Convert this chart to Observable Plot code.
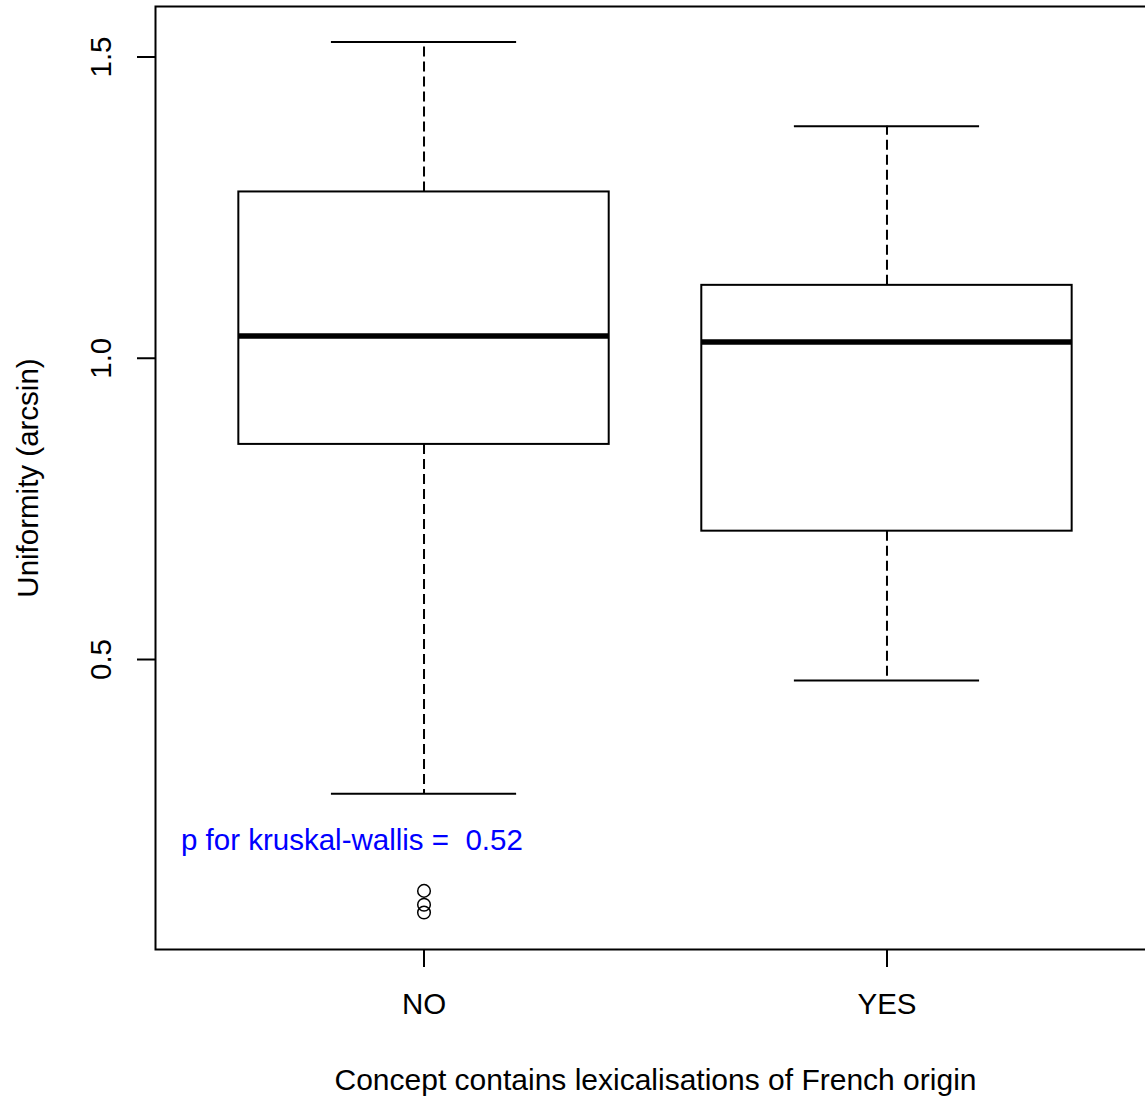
<!DOCTYPE html>
<html>
<head>
<meta charset="utf-8">
<script src="https://cdn.jsdelivr.net/npm/d3@7"></script>
<script src="https://cdn.jsdelivr.net/npm/@observablehq/plot@0.6"></script>
<style>
  html, body { margin: 0; padding: 0; background: #fff; overflow: hidden; }
  svg text { white-space: pre; }
</style>
</head>
<body>
<div id="chart"></div>
<script>
// Box-plot summary statistics per group
const groups = ["NO", "YES"];
const whiskerLow = [0.277, 0.465];
const lowerQuartile = [0.857, 0.713];
const medians = [1.037, 1.027];
const upperQuartile = [1.276, 1.121];
const whiskerHigh = [1.525, 1.385];

// Points beyond the whiskers
const outlierGroups = ["NO", "NO", "NO"];
const outlierValues = [0.116, 0.093, 0.080];

const yTicks = [0.5, 1.0, 1.5];
const xTitle = "Concept contains lexicalisations of French origin";
const yTitle = "Uniformity (arcsin)";
const pLabel = "p for kruskal-wallis =  0.52";

const boxHalf = 0.4;     // half box width, in group units
const stapleHalf = 0.2;  // half whisker-cap width

const stats = groups.map((g, i) => ({
  group: g,
  pos: i + 1,
  lo: whiskerLow[i],
  q1: lowerQuartile[i],
  med: medians[i],
  q3: upperQuartile[i],
  hi: whiskerHigh[i]
}));
const outliers = outlierValues.map((v, i) => ({
  pos: groups.indexOf(outlierGroups[i]) + 1,
  value: v
}));

const font = "'Liberation Sans', Arial, Helvetica, sans-serif";
const fs = 29.5;

const chart = Plot.plot({
  width: 1145,
  height: 1099,
  marginLeft: 155,
  marginRight: -10,
  marginTop: 6,
  marginBottom: 150,
  style: { fontFamily: font, fontSize: fs + "px", color: "#000", background: "#fff" },
  x: { type: "linear", domain: [0.42, 2.58] },
  y: { domain: [0.0187, 1.5838] },
  marks: [
    // whiskers (dashed) from the quartiles to the extremes
    Plot.ruleX(stats, { x: "pos", y1: "q3", y2: "hi", stroke: "#000", strokeWidth: 2, strokeDasharray: "10,5" }),
    Plot.ruleX(stats, { x: "pos", y1: "q1", y2: "lo", stroke: "#000", strokeWidth: 2, strokeDasharray: "10,5" }),
    // whisker caps
    Plot.ruleY(stats, { y: "hi", x1: d => d.pos - stapleHalf, x2: d => d.pos + stapleHalf, stroke: "#000", strokeWidth: 2 }),
    Plot.ruleY(stats, { y: "lo", x1: d => d.pos - stapleHalf, x2: d => d.pos + stapleHalf, stroke: "#000", strokeWidth: 2 }),
    // boxes
    Plot.rect(stats, { x1: d => d.pos - boxHalf, x2: d => d.pos + boxHalf, y1: "q1", y2: "q3", fill: "#fff", stroke: "#000", strokeWidth: 2 }),
    // medians
    Plot.ruleY(stats, { y: "med", x1: d => d.pos - boxHalf, x2: d => d.pos + boxHalf, stroke: "#000", strokeWidth: 5.5 }),
    // outliers
    Plot.dot(outliers, { x: "pos", y: "value", r: 6.3, stroke: "#000", strokeWidth: 1.5, fill: "none" }),
    // test result annotation
    Plot.text([pLabel], { x: 0.475, y: 0.2, text: d => d, textAnchor: "start", lineAnchor: "middle", fill: "#0000ff", fontSize: fs }),
    // axes
    Plot.axisX({ ticks: [1, 2], tickFormat: d => groups[d - 1], tickSize: 18, tickPadding: 26, strokeWidth: 2, fontSize: fs, label: null }),
    Plot.axisY({ ticks: yTicks, tickFormat: d3.format(".1f"), tickSize: 18, tickPadding: 27, tickRotate: -90, strokeWidth: 2, fontSize: fs, label: null }),
    // axis titles
    Plot.text([xTitle], { frameAnchor: "bottom", dy: 131, text: d => d, textAnchor: "middle", lineAnchor: "middle", fontSize: 30 }),
    Plot.text([yTitle], { frameAnchor: "left", dx: -127, rotate: -90, text: d => d, textAnchor: "middle", lineAnchor: "middle", fontSize: fs }),
    Plot.frame({ stroke: "#000", strokeWidth: 2 })
  ]
});

document.getElementById("chart").appendChild(chart);
</script>
</body>
</html>
